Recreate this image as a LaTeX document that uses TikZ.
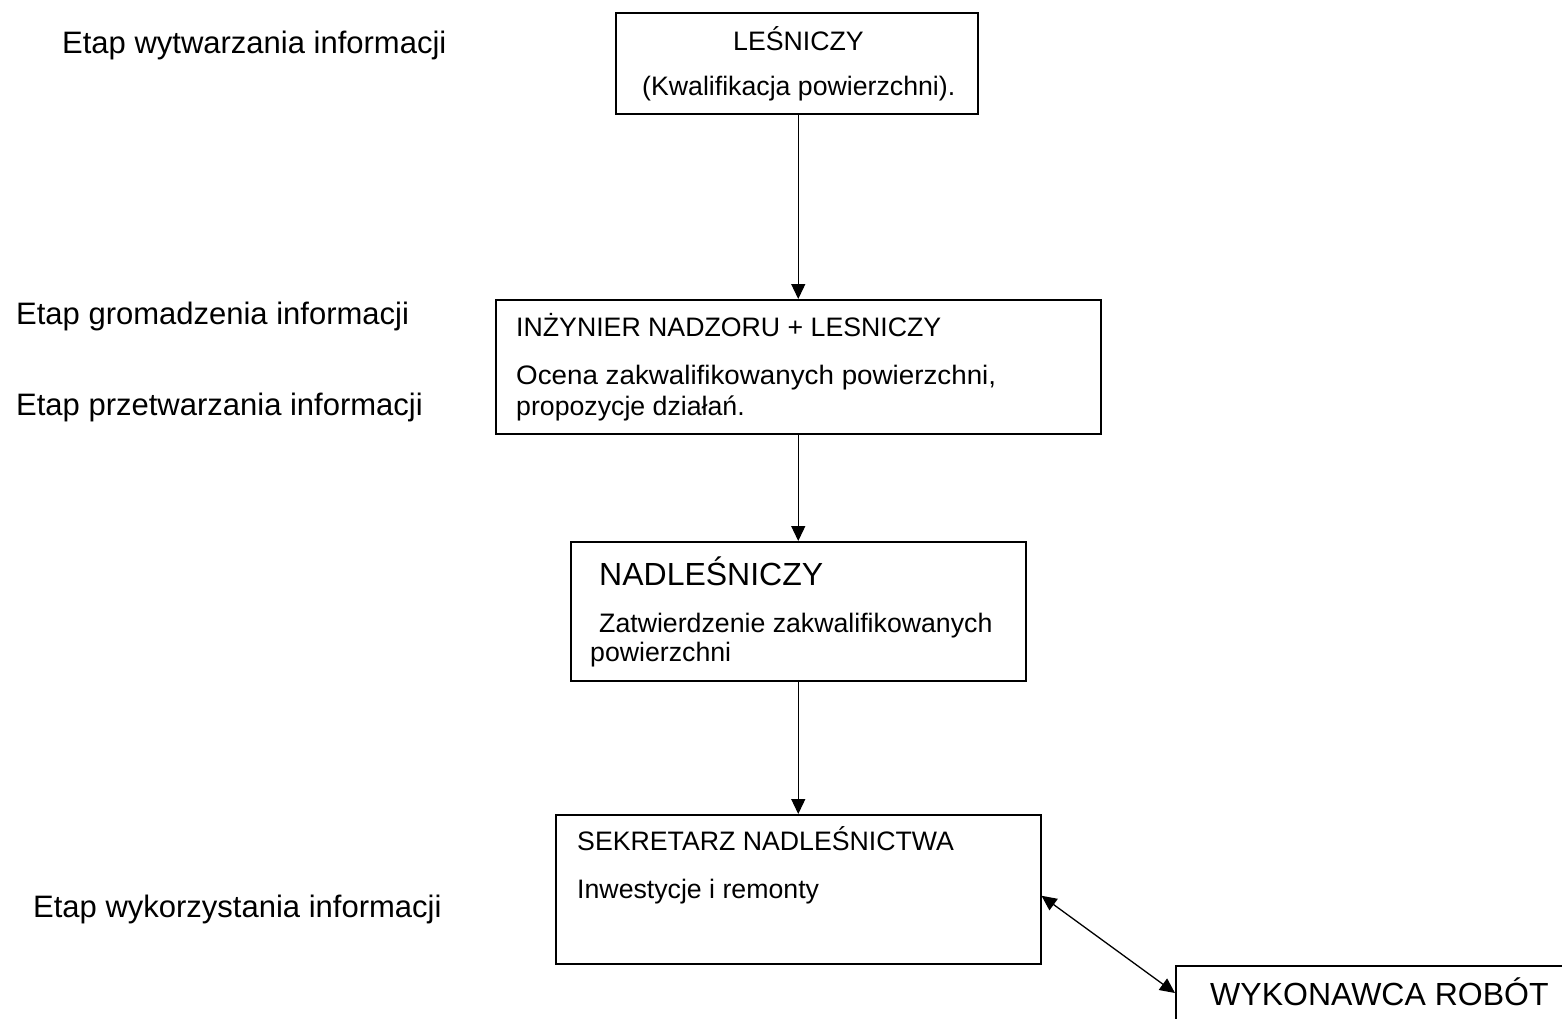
\documentclass[tikz,border=0pt]{standalone}
\usepackage{fontspec}
\setmainfont{Liberation Sans}
\usetikzlibrary{arrows.meta,calc}
\tikzset{
  boxnode/.style={draw=black, line width=1.5pt, rectangle, inner sep=0pt, anchor=north west},
  txt/.style={inner sep=0pt, anchor=base west, font=\fontsize{26.7}{32}\selectfont},
  bigtxt/.style={inner sep=0pt, anchor=base west, font=\fontsize{32}{38}\selectfont},
  lbl/.style={inner sep=0pt, anchor=base west, font=\fontsize{31}{37}\selectfont},
  arr/.style={line width=1.3pt, -{Triangle[length=15pt,width=14pt]}},
  arrboth/.style={line width=1.3pt, {Triangle[length=15pt,width=14pt]}-{Triangle[length=15pt,width=14pt]}}
}
\begin{document}
\begin{tikzpicture}[x=1pt,y=-1pt]
\useasboundingbox (0,0) rectangle (1562,1018);
\clip (0,0) rectangle (1562,1018);
\fill[white] (0,0) rectangle (1562,1018);

% left labels
\node[lbl] (l1) at (62,53) {Etap wytwarzania informacji};
\node[lbl] (l2) at (16,324) {Etap gromadzenia informacji};
\node[lbl] (l3) at (16,415) {Etap przetwarzania informacji};
\node[lbl] (l4) at (33,917) {Etap wykorzystania informacji};

% boxes
\node[boxnode, minimum width=362pt, minimum height=101pt] (b1) at (615,12) {};
\node[boxnode, minimum width=605pt, minimum height=134pt] (b2) at (495,299) {};
\node[boxnode, minimum width=455pt, minimum height=139pt] (b3) at (570,541) {};
\node[boxnode, minimum width=485pt, minimum height=149pt] (b4) at (555,814) {};
\node[boxnode, minimum width=500pt, minimum height=120pt] (b5) at (1175,965) {};

% box texts
\node[txt] (t1a) at (733,50) {LEŚNICZY};
\node[txt] (t1b) at (642,95) {(Kwalifikacja powierzchni).};

\node[txt] (t2a) at (516,336) {INŻYNIER NADZORU + LESNICZY};
\node[txt] (t2b) at (516,384) {\scalebox{1.04}[1]{Ocena zakwalifikowanych powierzchni,}};
\node[txt] (t2c) at (516,415) {propozycje działań.};

\node[bigtxt] (t3a) at (599,585) {NADLEŚNICZY};
\node[txt] (t3b) at (599,632) {Zatwierdzenie zakwalifikowanych};
\node[txt] (t3c) at (590,661) {powierzchni};

\node[txt] (t4a) at (577,850) {SEKRETARZ NADLEŚNICTWA};
\node[txt] (t4b) at (577,898) {Inwestycje i remonty};

\node[bigtxt] (t5a) at (1210,1005) {WYKONAWCA ROBÓT};

% connectors
\draw[arr] (b2.north |- b1.south) -- (b2.north);
\draw[arr] (b2.south) -- (b3.north);
\draw[arr] (b3.south) -- (b4.north);
\draw[arrboth] ($(b4.east)+(0,6.5)$) -- ($(b5.north west)+(0,28)$);
\end{tikzpicture}
\end{document}
